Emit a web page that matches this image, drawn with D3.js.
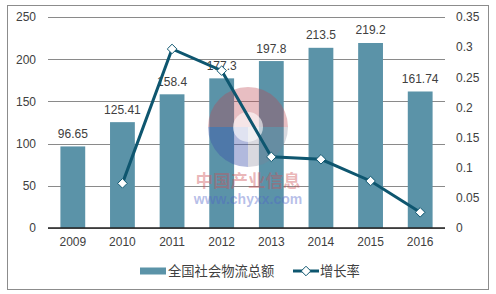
<!DOCTYPE html>
<html><head><meta charset="utf-8">
<script src="https://cdn.jsdelivr.net/npm/d3@7"></script>
<style>body{margin:0;background:#fff}svg{display:block}</style>
</head><body>
<script>
const years = ["2009","2010","2011","2012","2013","2014","2015","2016"];
const totals = [96.65,125.41,158.4,177.3,197.8,213.5,219.2,161.74];
const totalLabels = ["96.65","125.41","158.4","177.3","197.8","213.5","219.2","161.74"];
const growth = [null,0.074,0.297,0.261,0.118,0.114,0.078,0.026];
const leftTicks = [0,50,100,150,200,250];
const rightTicks = [0,0.05,0.1,0.15,0.2,0.25,0.3,0.35];
const rightTickLabels = ["0","0.05","0.1","0.15","0.2","0.25","0.3","0.35"];
const seriesNames = ["全国社会物流总额","增长率"];

const W=496,H=294;
const m={l:48,r:445,t:17,b:228};
const svg=d3.select("body").append("svg").attr("width",W).attr("height",H);
svg.append("rect").attr("x",7.5).attr("y",5.5).attr("width",481).attr("height",284)
  .attr("fill","#fff").attr("stroke","#8c8c8c").attr("stroke-width",1);

const x=d3.scaleBand().domain(years).range([m.l,m.r]).paddingInner(0.5).paddingOuter(0.25);
const xc=d=>x(d)+x.bandwidth()/2;
const yL=d3.scaleLinear().domain([0,250]).range([m.b,m.t]);
const yR=d3.scaleLinear().domain([0,0.35]).range([m.b,m.t]);
const font="'Liberation Sans',Arial,sans-serif";
const cjk="'Noto Sans CJK SC',sans-serif";

// gridlines
const grid=svg.append("g").attr("transform",`translate(${m.l},0)`)
  .call(d3.axisRight(yL).tickValues(leftTicks).tickSize(m.r-m.l).tickFormat(""));
grid.select(".domain").remove();
grid.selectAll("line").attr("stroke","#8a8a8a").attr("shape-rendering","crispEdges");

// left axis labels
const gl=svg.append("g").attr("transform",`translate(${m.l},0)`)
  .call(d3.axisLeft(yL).tickValues(leftTicks).tickSize(0).tickPadding(12));
gl.select(".domain").remove();
gl.selectAll("text").attr("font-family",font).attr("font-size",12).attr("fill","#404040");

// right axis labels
const gr=svg.append("g").attr("transform",`translate(${m.r},0)`)
  .call(d3.axisRight(yR).tickValues(rightTicks).tickSize(0).tickPadding(11)
  .tickFormat((d,i)=>rightTickLabels[i]));
gr.select(".domain").remove();
gr.selectAll("text").attr("font-family",font).attr("font-size",12).attr("fill","#404040");

// bars
svg.append("g").selectAll("rect").data(totals).join("rect")
  .attr("x",(d,i)=>x(years[i])).attr("width",x.bandwidth())
  .attr("y",d=>yL(d)).attr("height",d=>yL(0)-yL(d))
  .attr("fill","#5b93a8");

// watermark (over bars)
const wm=svg.append("g").attr("transform","translate(248,127)");
const arc=d3.arc();
wm.append("path").attr("d",arc({innerRadius:0,outerRadius:40,startAngle:-Math.PI/2,endAngle:Math.PI/2}))
  .attr("fill","rgba(190,70,80,0.35)");
wm.append("path").attr("d",arc({innerRadius:0,outerRadius:40,startAngle:Math.PI,endAngle:Math.PI*1.5}))
  .attr("fill","rgba(60,80,170,0.4)");
wm.append("path").attr("d",arc({innerRadius:0,outerRadius:40,startAngle:Math.PI/2,endAngle:Math.PI}))
  .attr("fill","rgba(130,130,150,0.3)");
wm.append("path").attr("d",arc({innerRadius:0,outerRadius:15,startAngle:0,endAngle:Math.PI*2}))
  .attr("fill","rgba(255,255,255,0.6)");
wm.append("text").attr("x",0).attr("y",60).attr("text-anchor","middle")
  .attr("font-family",cjk).attr("font-weight","bold").attr("font-size",17.5)
  .attr("fill","rgba(205,80,85,0.42)").text("中国产业信息");
wm.append("text").attr("x",0).attr("y",77).attr("text-anchor","middle")
  .attr("font-family",font).attr("font-weight","bold").attr("font-size",14)
  .attr("fill","rgba(80,100,200,0.42)").text("www.chyxx.com");

// bottom axis
const gx=svg.append("g").attr("transform",`translate(0,${m.b})`)
  .call(d3.axisBottom(x).tickSize(0).tickPadding(9));
gx.select(".domain").attr("stroke","#222").attr("stroke-width",1.5).attr("d",`M${m.l},0H${m.r}`);
gx.selectAll("text").attr("font-family",font).attr("font-size",12).attr("fill","#404040");

// value labels
svg.append("g").selectAll("text").data(totals).join("text")
  .attr("x",(d,i)=>xc(years[i])).attr("y",d=>yL(d)-8.5).attr("text-anchor","middle")
  .attr("font-family",font).attr("font-size",12).attr("fill","#404040")
  .text((d,i)=>totalLabels[i]);

// line
const pts=growth.map((g,i)=>({x:xc(years[i]),g})).filter(p=>p.g!==null);
const line=d3.line().x(p=>p.x).y(p=>yR(p.g));
svg.append("path").attr("d",line(pts)).attr("fill","none").attr("stroke","#0e566f").attr("stroke-width",3);
const sym=d3.symbol().type(d3.symbolDiamond2).size(58);
svg.append("g").selectAll("path").data(pts).join("path")
  .attr("transform",p=>`translate(${p.x},${yR(p.g)})`).attr("d",sym)
  .attr("fill","#fff").attr("stroke","#0e566f").attr("stroke-width",1);

// legend
const lg=svg.append("g");
lg.append("rect").attr("x",140).attr("y",267.5).attr("width",26).attr("height",7).attr("fill","#5b93a8");
lg.append("text").attr("x",168).attr("y",276).attr("font-family",cjk).attr("font-size",13.3)
  .attr("fill","#404040").text(seriesNames[0]);
lg.append("line").attr("x1",293).attr("x2",319).attr("y1",271).attr("y2",271)
  .attr("stroke","#0e566f").attr("stroke-width",3);
lg.append("path").attr("transform","translate(306,271)").attr("d",sym)
  .attr("fill","#fff").attr("stroke","#0e566f").attr("stroke-width",1);
lg.append("text").attr("x",320).attr("y",276).attr("font-family",cjk).attr("font-size",13.3)
  .attr("fill","#404040").text(seriesNames[1]);
</script>
</body></html>
